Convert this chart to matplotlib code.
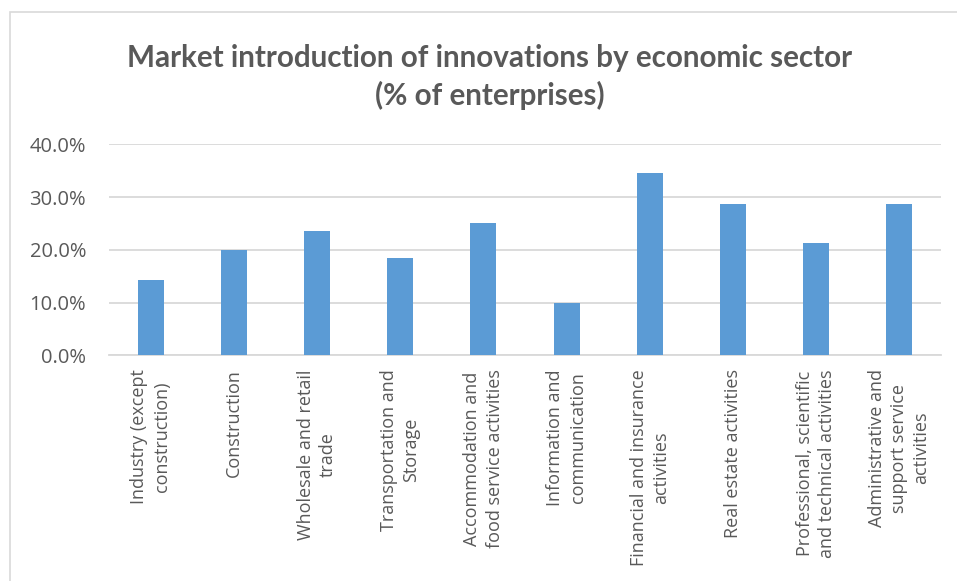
import matplotlib
matplotlib.use("Agg")
import matplotlib.pyplot as plt
from matplotlib.patches import Rectangle
from matplotlib.ticker import FuncFormatter

plt.rcParams["font.family"] = ["Open Sans", "DejaVu Sans"]

sectors = [
    "Industry (except\nconstruction)",
    "Construction",
    "Wholesale and retail\ntrade",
    "Transportation and\nStorage",
    "Accommodation and\nfood service activities",
    "Information and\ncommunication",
    "Financial and insurance\nactivities",
    "Real estate activities",
    "Professional, scientific\nand technical activities",
    "Administrative and\nsupport service\nactivities",
]
share_pct = [14.3, 20.0, 23.6, 18.5, 25.0, 10.0, 34.6, 28.6, 21.2, 28.6]
y_ticks = [0, 10, 20, 30, 40]

text_grey = "#595959"
grid_grey = "#d9d9d9"
bar_blue = "#5B9BD5"

fig = plt.figure(figsize=(9.57, 5.81), dpi=100)
fig.patch.set_facecolor("white")

# chart frame
fig.patches.append(Rectangle((10 / 957, -0.1), 1.2, 1 - 12 / 581 + 0.1,
                             transform=fig.transFigure, fill=False,
                             edgecolor=grid_grey, linewidth=1.2))

ax = fig.add_axes([109 / 957, 1 - 355.3 / 581, (941 - 109) / 957, (355.3 - 144.3) / 581])
x = range(len(sectors))
ax.bar(x, share_pct, width=0.313, color=bar_blue, zorder=3)

ax.set_ylim(0, 40)
ax.set_xlim(-0.5, len(sectors) - 0.5)
ax.set_yticks(y_ticks)
ax.yaxis.set_major_formatter(FuncFormatter(lambda v, _: f"{v:.1f}%"))
ax.yaxis.grid(True, color=grid_grey, linewidth=1.3, zorder=0)
ax.set_axisbelow(True)
for s in ["top", "right", "left"]:
    ax.spines[s].set_visible(False)
ax.spines["bottom"].set_color(grid_grey)
ax.spines["bottom"].set_linewidth(1.3)
ax.tick_params(axis="both", length=0, colors=text_grey)
ax.tick_params(axis="y", pad=16.5, labelsize=14.5)

ax.set_xticks(list(x))
ax.set_xticklabels(sectors, rotation=90, ha="center", va="top",
                   multialignment="center", fontsize=13, color=text_grey,
                   linespacing=1.3)
ax.tick_params(axis="x", pad=10)

fig.text(0.512, 1 - 77 / 581,
         "Market introduction of innovations by economic sector\n(% of enterprises)",
         ha="center", va="center", fontsize=21.3, fontweight="bold",
         color=text_grey, family="Lato", linespacing=1.35)

fig.savefig("out.png", dpi=100, facecolor="white")
